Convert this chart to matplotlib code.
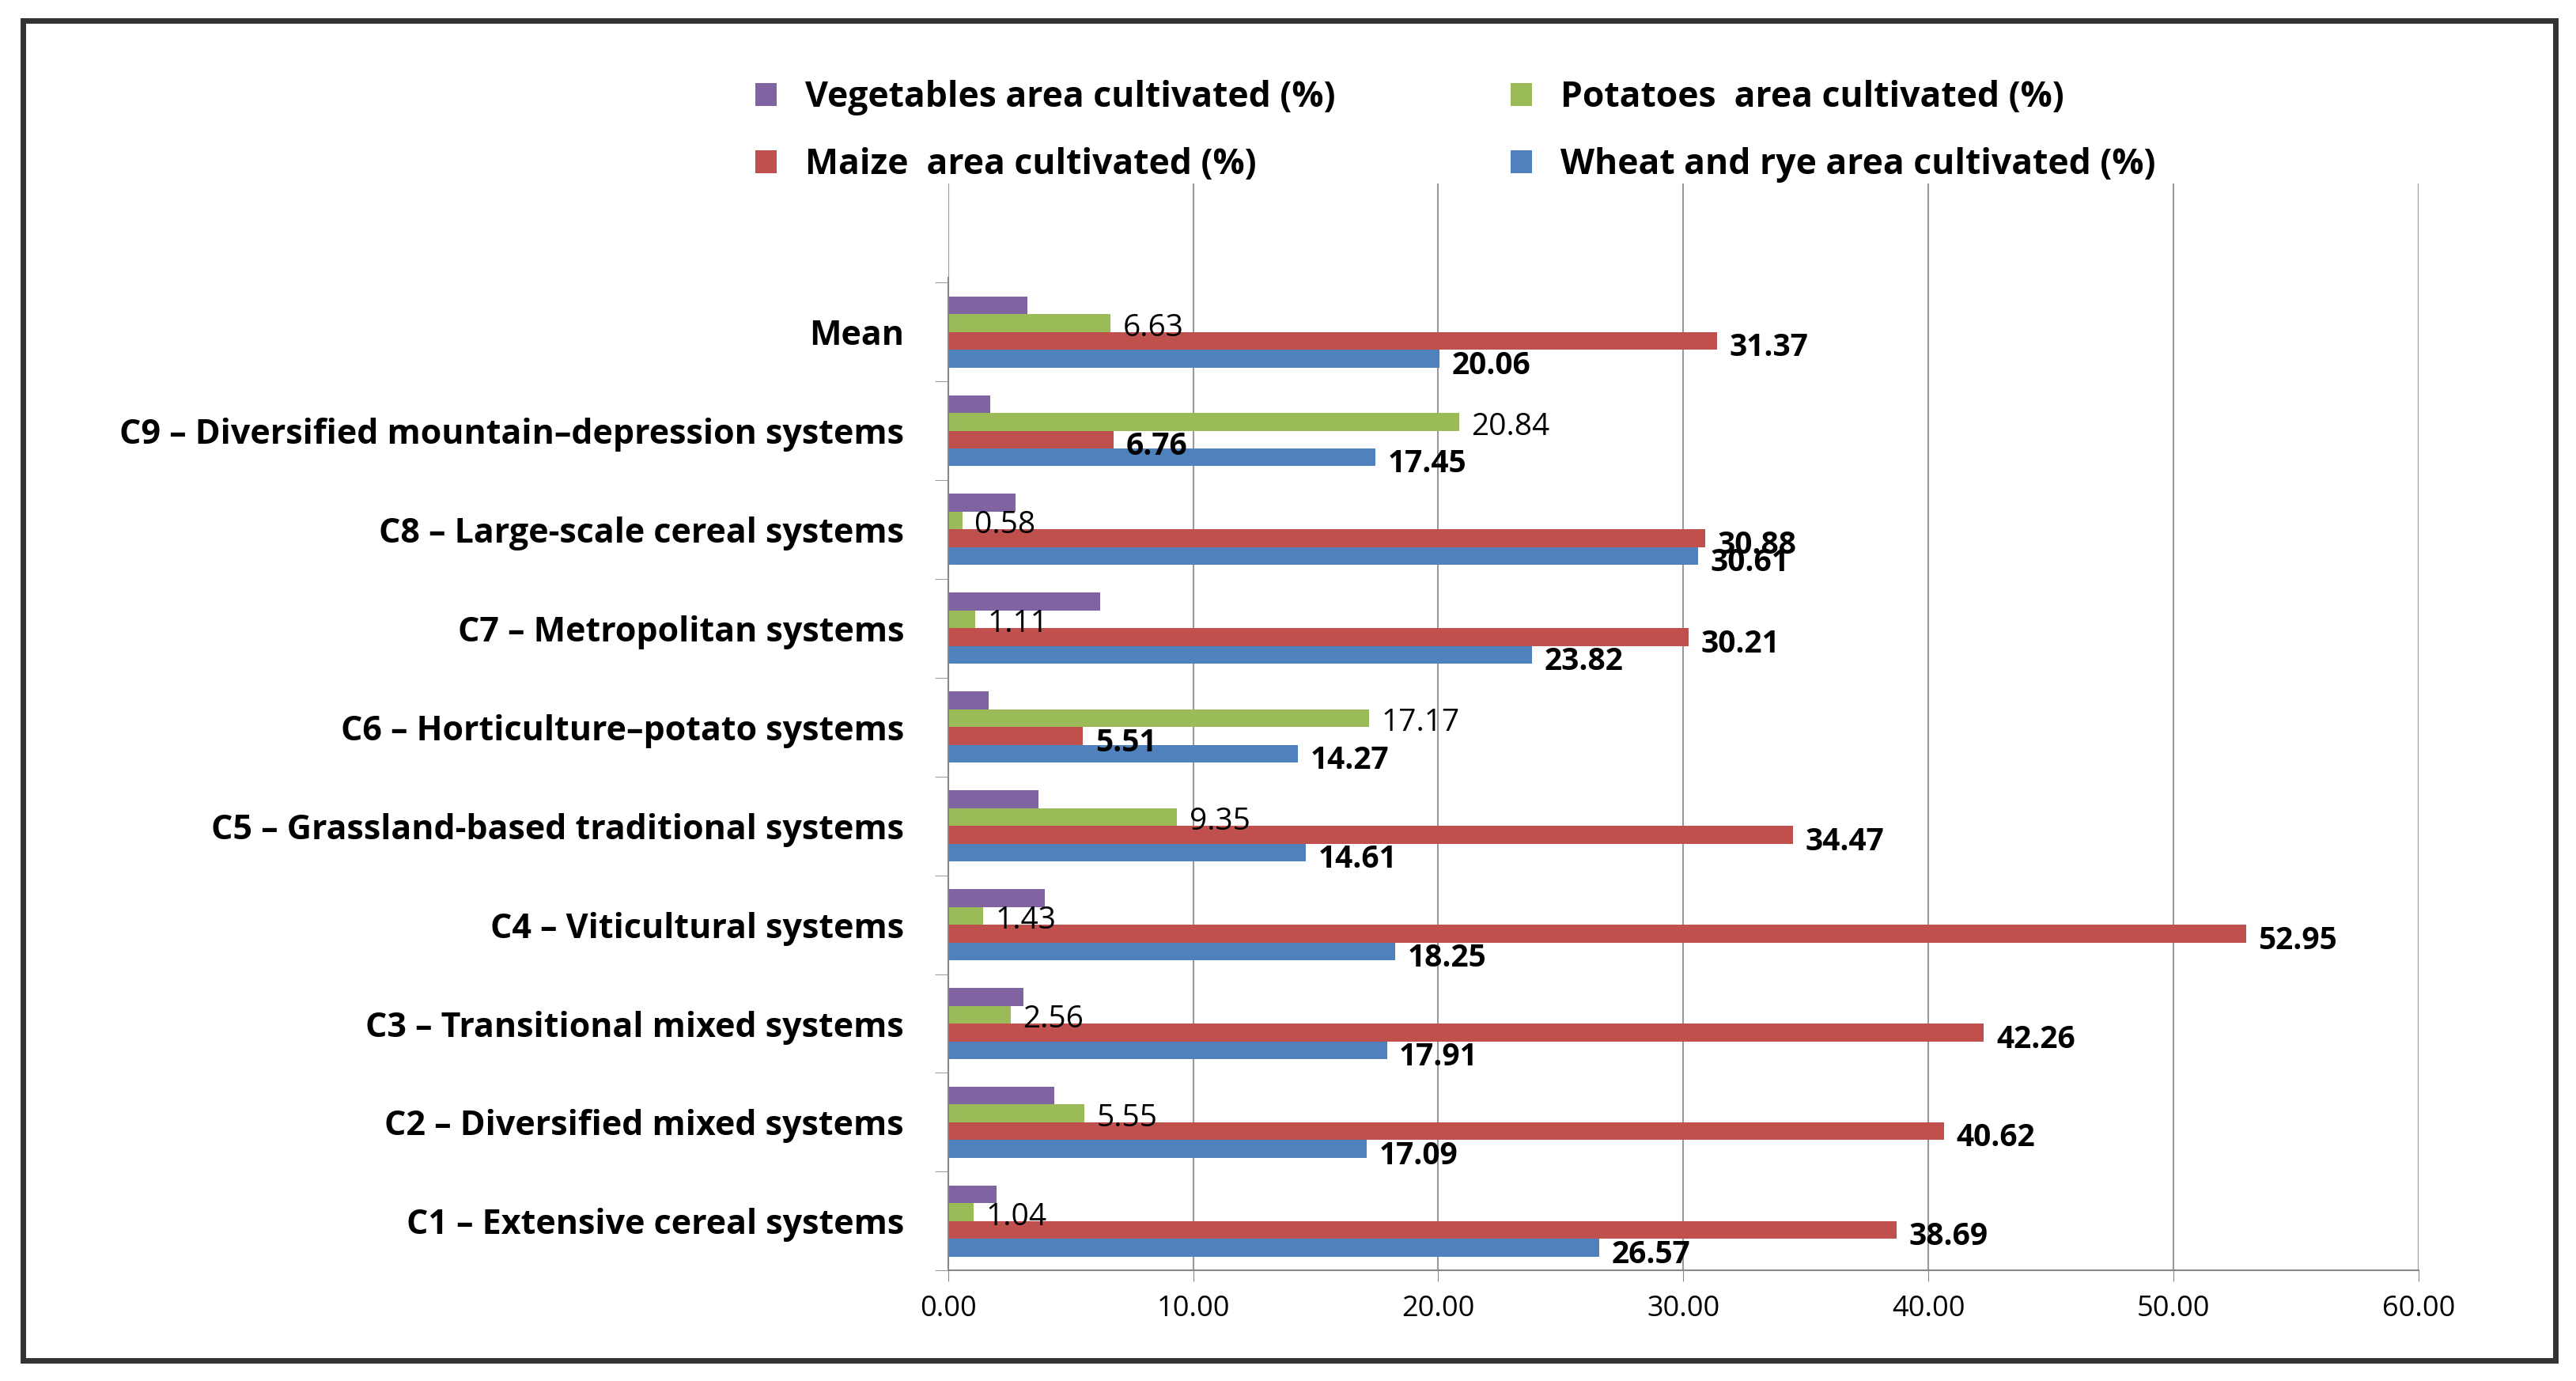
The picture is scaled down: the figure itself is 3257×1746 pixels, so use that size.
import matplotlib.pyplot as plt
import numpy as np
from matplotlib.patches import Rectangle

plt.rcParams['font.family'] = ['Open Sans', 'DejaVu Sans']

categories = ["C1 \u2013 Extensive cereal systems", "C2 \u2013 Diversified mixed systems",
              "C3 \u2013 Transitional mixed systems", "C4 \u2013 Viticultural systems",
              "C5 \u2013 Grassland-based traditional systems", "C6 \u2013 Horticulture\u2013potato systems",
              "C7 \u2013 Metropolitan systems", "C8 \u2013 Large-scale cereal systems",
              "C9 \u2013 Diversified mountain\u2013depression systems", "Mean"]
wheat = [26.57, 17.09, 17.91, 18.25, 14.61, 14.27, 23.82, 30.61, 17.45, 20.06]
maize = [38.69, 40.62, 42.26, 52.95, 34.47, 5.51, 30.21, 30.88, 6.76, 31.37]
potatoes = [1.04, 5.55, 2.56, 1.43, 9.35, 17.17, 1.11, 0.58, 20.84, 6.63]
vegetables = [1.97, 4.35, 3.08, 3.95, 3.70, 1.67, 6.22, 2.76, 1.73, 3.24]

fig = plt.figure(figsize=(32.57, 17.46), dpi=100)
ax = fig.add_axes([0.368, 0.080, 0.571, 0.787])
y = np.arange(len(categories))
h = 0.18
b_w = ax.barh(y - 1.5 * h, wheat, h, color='#4f81bd', label='Wheat and rye area cultivated (%)')
b_m = ax.barh(y - 0.5 * h, maize, h, color='#c0504d', label='Maize  area cultivated (%)')
b_p = ax.barh(y + 0.5 * h, potatoes, h, color='#9bbb59', label='Potatoes  area cultivated (%)')
b_v = ax.barh(y + 1.5 * h, vegetables, h, color='#8064a2', label='Vegetables area cultivated (%)')

for i in range(len(categories)):
    ax.text(wheat[i] + 0.5, y[i] - 1.5 * h - 0.07, f"{wheat[i]:.2f}", fontsize=28, fontweight='bold', va='center')
    ax.text(maize[i] + 0.5, y[i] - 0.5 * h - 0.07, f"{maize[i]:.2f}", fontsize=28, fontweight='bold', va='center')
    ax.text(potatoes[i] + 0.5, y[i] + 0.5 * h - 0.05, f"{potatoes[i]:.2f}", fontsize=28, va='center')

ax.set_xlim(0, 60)
ax.set_ylim(-0.5, 10.5)
ax.set_xticks(np.arange(0, 61, 10))
ax.set_xticklabels([f"{v:.2f}" for v in range(0, 61, 10)], fontsize=26)
ax.set_yticks(y)
ax.set_yticklabels(categories, fontsize=31, fontweight='bold')
ax.set_yticks(np.arange(-0.5, 10, 1), minor=True)
ax.tick_params(axis='y', which='major', length=0, pad=40)
ax.tick_params(axis='y', which='minor', length=12, color='#888888')
ax.tick_params(axis='x', length=10, color='#888888', pad=12)
ax.grid(axis='x', color='#999999', linewidth=1.5)
ax.set_axisbelow(True)
for s in ['top', 'right']:
    ax.spines[s].set_visible(False)
ax.spines['left'].set_bounds(-0.5, 9.55)
ax.spines['left'].set_color('#888888')
ax.spines['bottom'].set_color('#888888')
ax.spines['left'].set_linewidth(1.5)
ax.spines['bottom'].set_linewidth(1.5)

fig.legend([b_v, b_m, b_p, b_w],
           [b_v.get_label(), b_m.get_label(), b_p.get_label(), b_w.get_label()],
           ncol=2, loc='upper center', bbox_to_anchor=(0.565, 0.965), frameon=False,
           prop={'size': 32, 'weight': 'bold'}, columnspacing=5, handlelength=0.6,
           handleheight=0.6, labelspacing=0.9)

fig.patches.append(Rectangle((0.009, 0.015), 0.983, 0.970, transform=fig.transFigure,
                             fill=False, edgecolor='#333333', linewidth=5))
fig.savefig('out.png', dpi=100)
